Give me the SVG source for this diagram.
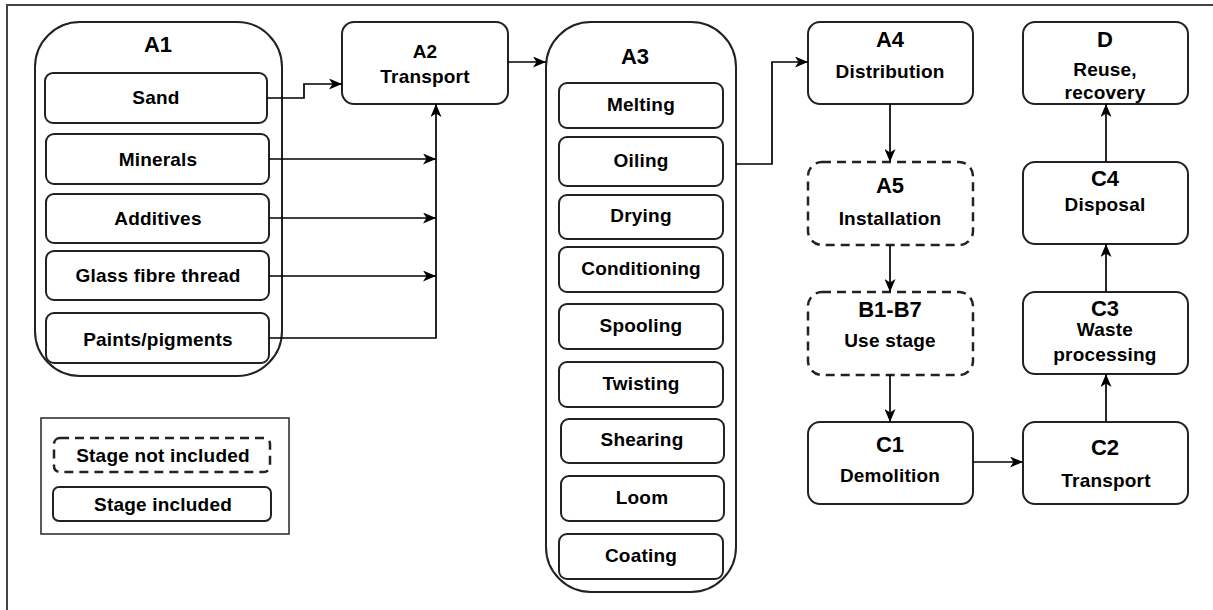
<svg xmlns="http://www.w3.org/2000/svg" width="1213" height="610" viewBox="0 0 1213 610">
  <defs>
    <marker id="arrow" viewBox="0 0 13 11" refX="13" refY="5.5" markerWidth="13" markerHeight="11" markerUnits="userSpaceOnUse" orient="auto">
      <path d="M0,0 L13,5.5 L0,11 L3.5,5.5 Z" fill="#000"/>
    </marker>
    <style>
      .frame { fill: none; stroke: #444; stroke-width: 2; }
      .box { fill: #fff; stroke: #222; stroke-width: 2; }
      .dash { fill: #fff; stroke: #222; stroke-width: 2.5; stroke-dasharray: 9 6; }
      .legend { fill: #fff; stroke: #333; stroke-width: 1.6; }
      .edge { fill: none; stroke: #000; stroke-width: 1.7; }
      .arr { marker-end: url(#arrow); }
      text { font-family: "Liberation Sans", Arial, sans-serif; font-weight: bold; fill: #000; text-anchor: middle; }
      .t { font-size: 22px; }
      .b { font-size: 19px; letter-spacing: 0.2px; }
    </style>
  </defs>

  <rect x="0" y="0" width="1213" height="610" fill="#fff"/>
  <rect class="frame" x="7" y="5" width="1230" height="630"/>

  <!-- A1: raw materials -->
  <g id="A1">
    <rect class="box" x="35" y="22" width="247" height="354" rx="45"/>
    <text class="t" x="158" y="52">A1</text>
    <rect class="box" x="45" y="73" width="222" height="50" rx="8"/>
    <text class="b" x="156" y="104">Sand</text>
    <rect class="box" x="46" y="134" width="223" height="50" rx="8"/>
    <text class="b" x="158" y="166">Minerals</text>
    <rect class="box" x="46" y="194" width="223" height="49" rx="8"/>
    <text class="b" x="158" y="225">Additives</text>
    <rect class="box" x="46" y="251" width="223" height="49" rx="8"/>
    <text class="b" x="158" y="282">Glass fibre thread</text>
    <rect class="box" x="46" y="313" width="223" height="50" rx="8"/>
    <text class="b" x="158" y="346">Paints/pigments</text>
  </g>

  <!-- A2 -->
  <g id="A2">
    <rect class="box" x="342" y="22" width="166" height="82" rx="12"/>
    <text class="b" x="425" y="58">A2</text>
    <text class="b" x="425" y="83">Transport</text>
  </g>

  <!-- A3: manufacturing -->
  <g id="A3">
    <rect class="box" x="546" y="22" width="190" height="570" rx="45"/>
    <text class="t" x="635" y="64">A3</text>
    <rect class="box" x="559" y="83" width="164" height="45" rx="8"/>
    <text class="b" x="641" y="111">Melting</text>
    <rect class="box" x="559" y="137" width="164" height="49" rx="8"/>
    <text class="b" x="641" y="167">Oiling</text>
    <rect class="box" x="559" y="195" width="164" height="44" rx="8"/>
    <text class="b" x="641" y="222">Drying</text>
    <rect class="box" x="559" y="247" width="164" height="45" rx="8"/>
    <text class="b" x="641" y="275">Conditioning</text>
    <rect class="box" x="559" y="304" width="164" height="45" rx="8"/>
    <text class="b" x="641" y="332">Spooling</text>
    <rect class="box" x="559" y="362" width="164" height="45" rx="8"/>
    <text class="b" x="641" y="390">Twisting</text>
    <rect class="box" x="561" y="419" width="163" height="44" rx="8"/>
    <text class="b" x="642" y="446">Shearing</text>
    <rect class="box" x="561" y="476" width="163" height="45" rx="8"/>
    <text class="b" x="642" y="504">Loom</text>
    <rect class="box" x="559" y="534" width="164" height="45" rx="8"/>
    <text class="b" x="641" y="562">Coating</text>
  </g>

  <g id="A4">
    <rect class="box" x="808" y="22" width="165" height="82" rx="12"/>
    <text class="t" x="890" y="47">A4</text>
    <text class="b" x="890" y="78">Distribution</text>
  </g>

  <g id="A5">
    <rect class="dash" x="808" y="162" width="165" height="83" rx="14"/>
    <text class="t" x="890" y="193">A5</text>
    <text class="b" x="890" y="225">Installation</text>
  </g>

  <g id="B1-B7">
    <rect class="dash" x="808" y="292" width="165" height="83" rx="14"/>
    <text class="t" x="890" y="317">B1-B7</text>
    <text class="b" x="890" y="347">Use stage</text>
  </g>

  <g id="C1">
    <rect class="box" x="808" y="422" width="165" height="82" rx="12"/>
    <text class="t" x="890" y="452">C1</text>
    <text class="b" x="890" y="482">Demolition</text>
  </g>

  <g id="C2">
    <rect class="box" x="1023" y="422" width="165" height="82" rx="12"/>
    <text class="t" x="1105" y="455">C2</text>
    <text class="b" x="1106" y="487">Transport</text>
  </g>

  <g id="C3">
    <rect class="box" x="1023" y="292" width="165" height="82" rx="12"/>
    <text class="t" x="1105" y="316">C3</text>
    <text class="b" x="1105" y="336">Waste</text>
    <text class="b" x="1105" y="361">processing</text>
  </g>

  <g id="C4">
    <rect class="box" x="1023" y="162" width="165" height="82" rx="12"/>
    <text class="t" x="1105" y="186">C4</text>
    <text class="b" x="1105" y="211">Disposal</text>
  </g>

  <g id="D">
    <rect class="box" x="1023" y="22" width="165" height="82" rx="12"/>
    <text class="t" x="1105" y="47">D</text>
    <text class="b" x="1105" y="76">Reuse,</text>
    <text class="b" x="1105" y="99">recovery</text>
  </g>

  <!-- legend -->
  <g id="legend">
    <rect class="legend" x="41" y="418" width="248" height="116"/>
    <rect class="dash" x="54" y="438" width="216" height="34" rx="6"/>
    <text class="b" x="163" y="462">Stage not included</text>
    <rect class="box" x="53" y="487" width="218" height="34" rx="6"/>
    <text class="b" x="163" y="511">Stage included</text>
  </g>

  <!-- connectors -->
  <g id="connectors">
    <path class="edge arr" d="M267,98 H304 V84 H342"/>
    <path class="edge arr" d="M269,159 H436"/>
    <path class="edge arr" d="M269,218 H436"/>
    <path class="edge arr" d="M269,276 H436"/>
    <path class="edge arr" d="M269,338 H436 V104"/>
    <path class="edge arr" d="M508,62 H546"/>
    <path class="edge arr" d="M736,164 H772 V62 H808"/>
    <path class="edge arr" d="M890,104 V162"/>
    <path class="edge arr" d="M890,245 V292"/>
    <path class="edge arr" d="M890,375 V422"/>
    <path class="edge arr" d="M973,462 H1023"/>
    <path class="edge arr" d="M1106,422 V374"/>
    <path class="edge arr" d="M1106,292 V244"/>
    <path class="edge arr" d="M1106,162 V104"/>
  </g>
</svg>
